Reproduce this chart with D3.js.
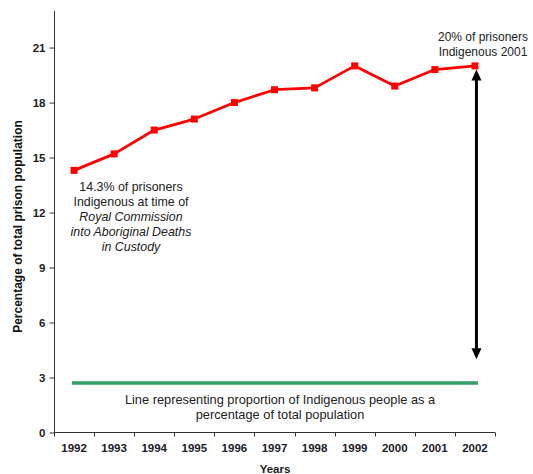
<!DOCTYPE html>
<html>
<head>
<meta charset="utf-8">
<script src="https://cdn.jsdelivr.net/npm/d3@7"></script>
<style>
  html, body { margin: 0; padding: 0; background: #fff; }
  svg { display: block; font-family: Arial, "Liberation Sans", sans-serif; }
</style>
</head>
<body>
<svg id="chart" width="533" height="474"></svg>
<script>
// Indigenous share of the prison population, 1992-2002
const years = ["1992", "1993", "1994", "1995", "1996", "1997", "1998", "1999", "2000", "2001", "2002"];
const prisonShare = [14.3, 15.2, 16.5, 17.1, 18.0, 18.7, 18.8, 20.0, 18.9, 19.8, 20.0];
const populationShare = 2.7;        // Indigenous share of total population
const gapArrow = [4.0, 19.8];        // span of the double-headed arrow
const yTicks = [0, 3, 6, 9, 12, 15, 18, 21];

const svg = d3.select("#chart");
const textColor = "#222";

const x = d3.scaleBand().domain(years).range([54, 495]);
const y = d3.scaleLinear().domain([0, 23]).range([432.5, 10.9]);
const cx = d => x(d) + x.bandwidth() / 2;

// Y axis
const yAxis = svg.append("g")
  .attr("transform", "translate(54.5,0)")
  .call(d3.axisLeft(y).tickValues(yTicks).tickSize(5).tickPadding(4).tickFormat(d3.format("d")));
yAxis.select(".domain").attr("d", `M-0,${y(23)}V${y(0)}`).attr("stroke", "#333");
yAxis.selectAll(".tick line").attr("stroke", "#333");
yAxis.selectAll(".tick text")
  .attr("font-size", 11.5).attr("font-weight", "bold").attr("fill", "#1c1c28")
  .attr("font-family", "Arial, 'Liberation Sans', sans-serif");

// X axis with tick marks between categories
const xAxisG = svg.append("g").attr("transform", `translate(0,${y(0)})`);
xAxisG.append("line")
  .attr("x1", 54).attr("x2", 495).attr("y1", 0).attr("y2", 0)
  .attr("stroke", "#333");
const boundaries = years.map(d => x(d)).concat([x.range()[1]]);
xAxisG.selectAll("line.tk").data(boundaries).join("line")
  .attr("class", "tk")
  .attr("x1", d => Math.round(d) + 0.5).attr("x2", d => Math.round(d) + 0.5)
  .attr("y1", 0).attr("y2", 4).attr("stroke", "#333");
xAxisG.selectAll("text").data(years).join("text")
  .attr("x", d => cx(d)).attr("y", 19.5)
  .attr("text-anchor", "middle")
  .attr("font-size", 11.5).attr("font-weight", "bold").attr("fill", "#1c1c28")
  .text(d => d);

// Axis titles
svg.append("text")
  .attr("transform", `translate(21.5,${226.5}) rotate(-90)`)
  .attr("text-anchor", "middle")
  .attr("font-size", 12).attr("font-weight", "bold").attr("fill", "#111")
  .text("Percentage of total prison population");
svg.append("text")
  .attr("x", 275).attr("y", 473)
  .attr("text-anchor", "middle")
  .attr("font-size", 11.5).attr("font-weight", "bold").attr("fill", "#222")
  .text("Years");

// Population share reference line
svg.append("line")
  .attr("x1", cx("1992") - 2).attr("x2", cx("2002") + 3)
  .attr("y1", y(populationShare)).attr("y2", y(populationShare))
  .attr("stroke", "#34a068").attr("stroke-width", 3.5);

// Prison share series
const pts = years.map((d, i) => [cx(d), y(prisonShare[i])]);
svg.append("path")
  .attr("d", d3.line()(pts))
  .attr("fill", "none").attr("stroke", "#ff0000").attr("stroke-width", 2.8)
  .attr("stroke-linejoin", "round");
svg.selectAll("rect.pt").data(pts).join("rect")
  .attr("class", "pt")
  .attr("x", d => d[0] - 3.5).attr("y", d => d[1] - 3.5)
  .attr("width", 7).attr("height", 7).attr("fill", "#ff0000");

// Double-headed arrow showing the gap
const ax = cx("2002") + 1.5;
const yTop = y(gapArrow[1]), yBot = y(gapArrow[0]);
const head = 11, half = 5;
svg.append("line")
  .attr("x1", ax).attr("x2", ax)
  .attr("y1", yTop + head - 1).attr("y2", yBot - head + 1)
  .attr("stroke", "#000").attr("stroke-width", 3);
svg.append("path")
  .attr("d", `M${ax},${yTop}L${ax - half},${yTop + head}L${ax + half},${yTop + head}Z`)
  .attr("fill", "#000");
svg.append("path")
  .attr("d", `M${ax},${yBot}L${ax - half},${yBot - head}L${ax + half},${yBot - head}Z`)
  .attr("fill", "#000");

// Annotations
function block(xc, yFirst, size, lines) {
  const t = svg.append("text")
    .attr("text-anchor", "middle")
    .attr("font-size", size).attr("fill", textColor);
  lines.forEach((l, i) => {
    t.append("tspan")
      .attr("x", xc).attr("y", yFirst + i * 15)
      .attr("font-style", l.italic ? "italic" : "normal")
      .text(l.text);
  });
}
block(483, 40.5, 12, [
  { text: "20% of prisoners" },
  { text: "Indigenous 2001" }
]);
block(131, 191, 12.4, [
  { text: "14.3% of prisoners" },
  { text: "Indigenous at time of" },
  { text: "Royal Commission", italic: true },
  { text: "into Aboriginal Deaths", italic: true },
  { text: "in Custody", italic: true }
]);
block(280, 404, 12.8, [
  { text: "Line representing proportion of Indigenous people as a" },
  { text: "percentage of total population" }
]);
</script>
</body>
</html>
